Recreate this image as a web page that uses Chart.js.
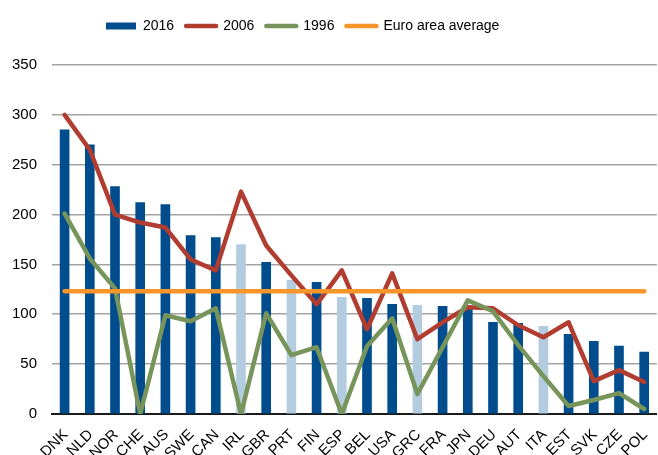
<!DOCTYPE html>
<html>
<head>
<meta charset="utf-8">
<script src="https://cdn.jsdelivr.net/npm/chart.js@4/dist/chart.umd.min.js"></script>
<style>
  html, body { margin: 0; padding: 0; background: #fff; overflow: hidden; }
  #wrap { width: 661px; height: 455px; }
</style>
</head>
<body>
<div id="wrap"><canvas id="c" width="661" height="455"></canvas></div>
<script>
const categories = ["DNK","NLD","NOR","CHE","AUS","SWE","CAN","IRL","GBR","PRT","FIN","ESP","BEL","USA","GRC","FRA","JPN","DEU","AUT","ITA","EST","SVK","CZE","POL"];
const values2016 = [285,270,228,212,210,179,177,170,152,134,132,117,116,110,109,108,107,92,91,88,80,73,68,62];
const values2006 = [300,265,200,192,187,155,144,223,169,139,110,144,85,141,75,92,107,106,89,77,92,33,44,32];
const values1996 = [201,156,126,0,99,93,106,0,101,59,67,0,68,96,20,67,114,103,69,38,8,14,21,5];
const euroAreaAverage = [123,123,123,123,123,123,123,123,123,123,123,123,123,123,123,123,123,123,123,123,123,123,123,123];
const euroAreaMembers = ["IRL","PRT","ESP","GRC","ITA"];
const yTicks = [0,50,100,150,200,250,300,350];

const DARK = '#004C8C', LIGHT = '#B4CCE0', RED = '#B13C30', GREEN = '#77955A', ORANGE = '#F5952A';
const FONT = '"Liberation Sans", Arial, sans-serif';

const barColors = categories.map(c => euroAreaMembers.includes(c) ? LIGHT : DARK);

// place the legend's first entry where the reference has it
const legendShift = {
  id: 'legendShift',
  afterLayout(chart) {
    const lg = chart.legend;
    if (lg) { lg.left = 106 - lg.options.labels.padding; }
  }
};

new Chart(document.getElementById('c'), {
  data: {
    labels: categories,
    datasets: [
      { type: 'bar', label: '2016', data: values2016, backgroundColor: barColors, barThickness: 9, xAxisID: 'x', yAxisID: 'y', order: 4 },
      { type: 'line', label: '2006', data: values2006, borderColor: RED, borderWidth: 4.5, pointRadius: 0, tension: 0, borderJoinStyle: 'round', borderCapStyle: 'round', xAxisID: 'x', yAxisID: 'y', order: 3 },
      { type: 'line', label: '1996', data: values1996, borderColor: GREEN, borderWidth: 4.5, pointRadius: 0, tension: 0, borderJoinStyle: 'round', borderCapStyle: 'round', xAxisID: 'x', yAxisID: 'y', order: 2 },
      { type: 'line', label: 'Euro area average', data: euroAreaAverage, borderColor: ORANGE, borderWidth: 4.5, pointRadius: 0, tension: 0, borderCapStyle: 'round', xAxisID: 'x', yAxisID: 'y', order: 1 }
    ]
  },
  plugins: [legendShift],
  options: {
    responsive: false,
    animation: false,
    layout: { padding: { top: 7, left: 0, right: 0, bottom: 0 } },
    plugins: {
      tooltip: { enabled: false },
      legend: {
        display: true,
        position: 'top',
        align: 'start',
        labels: {
          font: { family: FONT, size: 14 },
          color: '#000',
          padding: 12,
          usePointStyle: true,
          pointStyleWidth: 30,
          boxHeight: 7,
          generateLabels(chart) {
            return chart.data.datasets.map((ds, i) => ({
              text: ds.label,
              datasetIndex: i,
              fillStyle: ds.type === 'bar' ? DARK : ds.borderColor,
              strokeStyle: ds.type === 'bar' ? DARK : ds.borderColor,
              lineWidth: ds.type === 'bar' ? 0 : 4.5,
              lineCap: 'round',
              pointStyle: ds.type === 'bar' ? 'rect' : 'line',
              fontColor: '#000',
              hidden: false
            }));
          }
        }
      }
    },
    scales: {
      x: {
        type: 'category',
        position: 'bottom',
        offset: true,
        grid: { display: false, offset: true },
        border: { display: true, color: '#1a1a1a', width: 2 },
        ticks: {
          autoSkip: false,
          minRotation: 45,
          maxRotation: 45,
          color: '#000',
          padding: 4,
          labelOffset: 1,
          font: { family: FONT, size: 15 }
        },
        afterFit(s) { s.height = 41; }
      },
      y: {
        type: 'linear',
        position: 'left',
        min: 0,
        max: 350,
        afterBuildTicks(s) { s.ticks = yTicks.map(v => ({ value: v })); },
        grid: { color: '#a3a3a3', lineWidth: 1.6, drawTicks: false },
        border: { display: false },
        ticks: {
          color: '#000',
          padding: 15,
          font: { family: FONT, size: 15 }
        },
        afterFit(s) { s.width = 52; }
      },
      xTop: {
        type: 'category',
        position: 'top',
        display: true,
        grid: { display: false },
        border: { display: false },
        ticks: { display: false },
        afterFit(s) { s.height = 22; }
      }
    }
  }
});
</script>
</body>
</html>
